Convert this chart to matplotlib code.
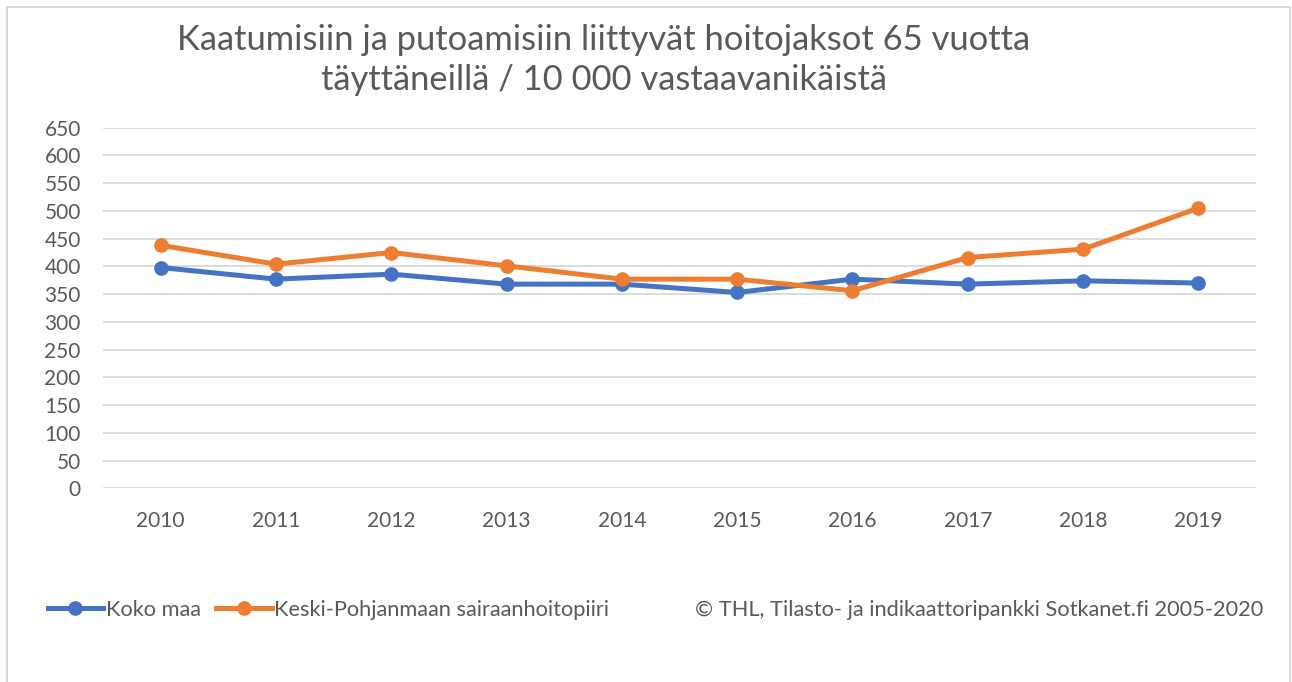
import matplotlib
matplotlib.use("Agg")
import matplotlib.pyplot as plt
from matplotlib.lines import Line2D
from matplotlib.patches import Rectangle

plt.rcParams["font.family"] = ["Lato", "DejaVu Sans"]

years = ["2010", "2011", "2012", "2013", "2014", "2015", "2016", "2017", "2018", "2019"]
koko_maa = [398, 377, 386, 368, 368, 353, 377, 368, 374, 370]
keski_pohjanmaa = [438, 404, 425, 401, 377, 377, 356, 416, 431, 505]

series_names = ["Koko maa", "Keski-Pohjanmaan sairaanhoitopiiri"]
title = "Kaatumisiin ja putoamisiin liittyvät hoitojaksot 65 vuotta\ntäyttäneillä / 10 000 vastaavanikäistä"
source = "© THL, Tilasto- ja indikaattoripankki Sotkanet.fi 2005-2020"

BLUE = "#4472C4"
ORANGE = "#ED7D31"
GRAY = "#595959"

W, H = 1292, 682
fig = plt.figure(figsize=(W / 100, H / 100), dpi=100)

# ulkoreunus
fig.patches.append(Rectangle((7 / W, -0.05), (1290 - 7) / W, 1.05 - 7 / H,
                             transform=fig.transFigure, fill=False,
                             edgecolor="#d9d9d9", linewidth=1.5))

ax = fig.add_axes([103 / W, 1 - 488.3 / H, (1256 - 103) / W, (488.3 - 127.7) / H])
x = range(len(years))
ax.plot(x, koko_maa, color=BLUE, linewidth=3.6, marker="o", markersize=9.5, zorder=3)
ax.plot(x, keski_pohjanmaa, color=ORANGE, linewidth=3.6, marker="o", markersize=9.5, zorder=4)

ax.set_xlim(-0.5, len(years) - 0.5)
ax.set_ylim(0, 650)
ax.set_yticks(range(0, 651, 50))
ax.set_xticks(list(x))
ax.set_xticklabels(years)
ax.grid(axis="y", color="#d9d9d9", linewidth=1.3)
ax.set_axisbelow(True)
for s in ax.spines.values():
    s.set_visible(False)
ax.tick_params(axis="both", length=0, colors=GRAY, labelsize=15)
ax.tick_params(axis="y", pad=16)
ax.tick_params(axis="x", pad=16)

fig.text(604 / W, 1 - 60 / H, title, ha="center", va="center", fontsize=24.8,
         color=GRAY, linespacing=1.34)

handles = [Line2D([], [], color=BLUE, linewidth=3.6, marker="o", markersize=9.5),
           Line2D([], [], color=ORANGE, linewidth=3.6, marker="o", markersize=9.5)]
fig.legend(handles, series_names, loc="center left", bbox_to_anchor=(28 / W, 1 - 610 / H),
           ncol=2, frameon=False, fontsize=15.7, labelcolor=GRAY,
           handlelength=2.55, handletextpad=0.12, columnspacing=0.7)

fig.text(1263 / W, 1 - 610 / H, source, ha="right", va="center", fontsize=15.7, color=GRAY)

fig.savefig("out.png", dpi=100)
